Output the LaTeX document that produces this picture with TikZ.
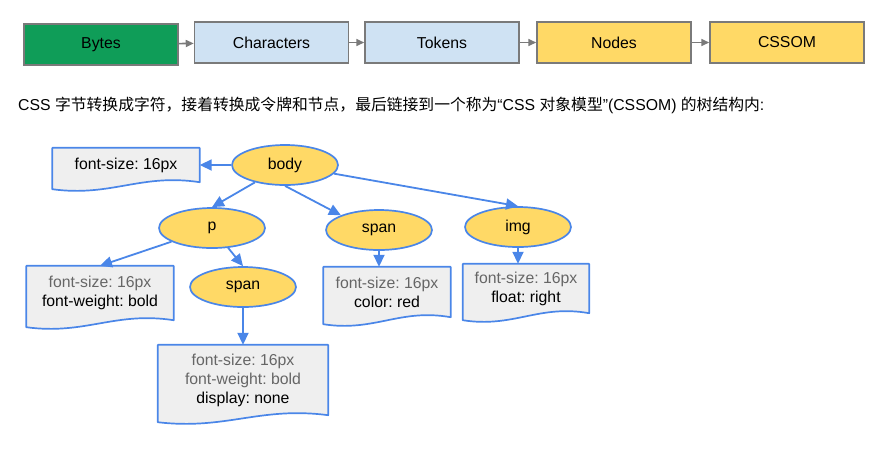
\documentclass[tikz,border=0pt]{standalone}
\usepackage{fontspec}
\setmainfont{Liberation Sans}
\newfontfamily\cjkfont{Noto Sans CJK SC}
\usetikzlibrary{shapes.geometric,arrows.meta,calc,backgrounds}
\frenchspacing
\definecolor{bytesgreen}{HTML}{0F9D58}
\definecolor{lightblue}{HTML}{CFE2F3}
\definecolor{nodeyellow}{HTML}{FFD966}
\definecolor{stagegray}{HTML}{7A7A7A}
\definecolor{treeblue}{HTML}{4A86E8}
\definecolor{boxgray}{HTML}{EFEFEF}
\definecolor{inherited}{HTML}{666666}
\tikzset{
  stage/.style={draw=stagegray, line width=1.5pt, minimum width=154pt, minimum height=41pt, inner sep=0pt, font=\fontsize{15.8}{19}\selectfont},
  stagearrow/.style={draw=stagegray, line width=1.6pt, -{Triangle[length=8pt,width=7pt]}},
  elem/.style={ellipse, draw=treeblue, fill=nodeyellow, line width=1.7pt, minimum width=106pt, minimum height=40pt, inner sep=0pt, font=\fontsize{15.8}{19}\selectfont},
  rules/.style={rectangle, inner sep=0pt, align=center, font=\fontsize{15.8}{19}\selectfont},
  docline/.style={draw=treeblue, fill=boxgray, line width=1.7pt, line join=round},
  treearrow/.style={draw=treeblue, line width=1.8pt, -{Triangle[length=12pt,width=11pt]}}
}
\newcommand{\inh}[1]{\textcolor{inherited}{#1}}
%% document outline with wavy bottom behind a rules node
\newcommand{\docshape}[1]{%
  \begin{pgfonlayer}{background}
    \draw[docline] (#1.north west) -- (#1.north east) -- (#1.south east)
      .. controls ($(#1.south west)!0.6!(#1.south east)+(0,-9)$) and ($(#1.south west)!0.4!(#1.south east)+(0,15)$)
      .. ($(#1.south west)+(0,7)$) -- cycle;
  \end{pgfonlayer}}
\begin{document}
\begin{tikzpicture}[x=1pt,y=-1pt]
    \useasboundingbox (0,0) rectangle (895,451);
    %% top row: bytes to CSSOM
    \node[stage, fill=bytesgreen] (bytes) at (101,44.5) {Bytes};
    \node[stage, fill=lightblue] (chars) at (271.5,42.5) {Characters};
    \node[stage, fill=lightblue] (tokens) at (442,42.5) {Tokens};
    \node[stage, fill=nodeyellow] (nodes) at (614,42.5) {Nodes};
    \node[stage, fill=nodeyellow] (cssom) at (787,42.5) {CSSOM};
    \foreach \a/\b in {bytes/chars, tokens/nodes, chars/tokens, nodes/cssom}
        \draw[stagearrow] (\a) -- (\b);
    %% caption line
    \node[anchor=west, inner sep=0pt, font=\fontsize{15.8}{18}\selectfont] (caption) at (18,105)
        {CSS {\cjkfont 字节转换成字符，接着转换成令牌和节点，最后链接到一个称为}“CSS {\cjkfont 对象模型}”(CSSOM) {\cjkfont 的树结构内}:};
    %% element tree
    \node[elem] (body) at (285,165) {body};
    \node[elem] (p) at (212,228) {p};
    \node[elem] (span) at (243,287) {span};
    \node[elem] (spantwo) at (379,230) {span};
    \node[elem] (img) at (518,227) {img};
    %% computed styles
    \node[rules, minimum width=147pt, minimum height=34pt] (bodystyle) at (126,165) {font-size: 16px};
    \node[rules, minimum width=147pt, minimum height=54pt] (pstyle) at (100,293) {\inh{font-size: 16px}\\font-weight: bold};
    \node[rules, minimum width=170pt, minimum height=70pt] (spanstyle) at (243,380) {\inh{font-size: 16px}\\\inh{font-weight: bold}\\display: none};
    \node[rules, minimum width=127pt, minimum height=50pt] (spantwostyle) at (387,292) {\inh{font-size: 16px}\\color: red};
    \node[rules, minimum width=126pt, minimum height=49pt] (imgstyle) at (526,288.5) {\inh{font-size: 16px}\\float: right};
    \foreach \n in {bodystyle, pstyle, spanstyle, spantwostyle, imgstyle}
        \docshape{\n};
    %% connectors
    \draw[treearrow] (body) -- (bodystyle);
    \draw[treearrow] (body) -- (p.north);
    \draw[treearrow] (body.south) -- (spantwo.north west);
    \draw[treearrow] (body) -- (img.north);
    \draw[treearrow] (p) -- (pstyle.north);
    \draw[treearrow] (p) -- (span.north);
    \draw[treearrow] (span) -- (spanstyle);
    \draw[treearrow] (spantwo.south) -- (spantwo.south |- spantwostyle.north);
    \draw[treearrow] (img.south) -- (img.south |- imgstyle.north);
\end{tikzpicture}
\end{document}
